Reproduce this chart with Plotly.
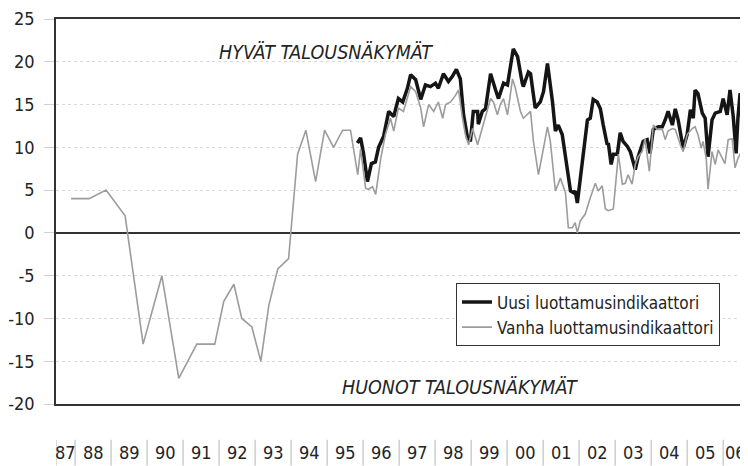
import plotly.graph_objects as go

# ---- data (decimal years, index values) ----
new_t = [1995.84, 1995.93, 1996.01, 1996.12, 1996.23, 1996.34, 1996.43, 1996.57, 1996.71, 1996.85,
         1996.98, 1997.10, 1997.23, 1997.32, 1997.46, 1997.60, 1997.73, 1997.87, 1998.01, 1998.09,
         1998.23, 1998.37, 1998.48, 1998.59, 1998.70, 1998.79, 1998.90, 1998.98, 1999.06, 1999.18,
         1999.20, 1999.31, 1999.40, 1999.54, 1999.68, 1999.76, 1999.90, 2000.01, 2000.17, 2000.29,
         2000.42, 2000.45, 2000.59, 2000.65, 2000.78, 2000.92, 2001.01, 2001.12, 2001.14, 2001.26,
         2001.34, 2001.42, 2001.53, 2001.64, 2001.76, 2001.84, 2001.89, 2001.95, 2002.09, 2002.23,
         2002.31, 2002.39, 2002.50, 2002.59, 2002.67, 2002.78, 2002.81, 2002.89, 2002.95, 2003.06,
         2003.14, 2003.22, 2003.34, 2003.42, 2003.56, 2003.64, 2003.78, 2003.89, 2003.97, 2004.06,
         2004.20, 2004.31, 2004.39, 2004.47, 2004.59, 2004.67, 2004.75, 2004.89, 2005.00, 2005.09,
         2005.17, 2005.22, 2005.30, 2005.42, 2005.50, 2005.58, 2005.69, 2005.78, 2005.92, 2006.00,
         2006.11, 2006.19, 2006.28, 2006.36, 2006.41, 2006.47, 2006.55, 2006.66]
new_v = [10.5, 11.1, 9.3, 6.0, 8.1, 8.3, 10.0, 11.3, 14.2, 13.6,
         15.7, 15.3, 16.9, 18.5, 17.9, 15.6, 17.3, 17.1, 17.5, 16.9,
         18.6, 17.7, 18.3, 19.1, 18.0, 13.8, 11.1, 10.7, 14.2, 14.2,
         12.7, 14.2, 14.5, 18.6, 16.7, 15.7, 17.5, 17.3, 21.5, 20.6,
         17.5, 17.1, 18.8, 18.6, 14.6, 15.3, 16.5, 19.8, 19.2, 15.3,
         11.9, 12.6, 11.5, 8.4, 4.9, 4.7, 4.9, 3.5, 8.7, 13.2,
         13.4, 15.6, 15.3, 14.5, 12.6, 10.3, 10.5, 8.0, 9.2, 9.2,
         11.7, 10.7, 10.1, 9.5, 7.4, 8.9, 10.7, 10.9, 9.3, 12.1,
         12.4, 12.4, 13.2, 14.2, 12.6, 14.5, 13.2, 9.9, 11.5, 14.4,
         13.4, 16.7, 16.3, 14.0, 13.4, 8.9, 13.2, 14.0, 14.2, 15.7,
         13.8, 16.7, 13.6, 9.3, 13.4, 16.3, 15.3, 14.4]

old_t = [1987.89, 1988.39, 1988.86, 1989.39, 1989.89, 1990.41, 1990.88, 1991.38, 1991.88, 1992.13,
         1992.41, 1992.63, 1992.91, 1993.16, 1993.38, 1993.63, 1993.93, 1994.18, 1994.41, 1994.68,
         1994.93, 1995.18, 1995.43, 1995.65, 1995.85, 1995.93, 1996.07, 1996.15, 1996.26, 1996.35,
         1996.49, 1996.62, 1996.76, 1996.85, 1996.98, 1997.12, 1997.32, 1997.46, 1997.60, 1997.68,
         1997.82, 1997.96, 1998.09, 1998.21, 1998.29, 1998.43, 1998.57, 1998.65, 1998.76, 1998.84,
         1998.93, 1999.04, 1999.18, 1999.26, 1999.40, 1999.54, 1999.62, 1999.73, 1999.81, 1999.90,
         2000.01, 2000.15, 2000.23, 2000.37, 2000.45, 2000.56, 2000.65, 2000.73, 2000.87, 2001.01,
         2001.12, 2001.20, 2001.34, 2001.48, 2001.62, 2001.70, 2001.81, 2001.89, 2001.95, 2002.03,
         2002.17, 2002.31, 2002.45, 2002.53, 2002.64, 2002.73, 2002.81, 2002.95, 2003.09, 2003.20,
         2003.28, 2003.36, 2003.47, 2003.56, 2003.64, 2003.75, 2003.83, 2003.95, 2004.06, 2004.17,
         2004.31, 2004.39, 2004.47, 2004.59, 2004.67, 2004.81, 2004.89, 2005.00, 2005.14, 2005.22,
         2005.30, 2005.39, 2005.44, 2005.53, 2005.58, 2005.69, 2005.78, 2005.86, 2005.97, 2006.05,
         2006.14, 2006.25, 2006.33, 2006.41, 2006.55, 2006.66]
old_v = [4, 4, 5, 2, -13, -5, -17, -13, -13, -8,
         -6, -10, -11, -15, -8.5, -4.2, -3, 9.2, 12, 6,
         12, 10, 12, 12, 6.8, 9.8, 5.2, 5.1, 5.4, 4.5,
         8.7, 11.5, 13.4, 11.9, 14.6, 14.2, 17.1, 16.5, 14.6, 12.4,
         15.0, 14.2, 15.3, 13.4, 15.0, 15.3, 16.1, 16.7, 13.4, 11.5,
         10.3, 12.2, 10.3, 11.5, 13.4, 15.7, 15.3, 13.8, 15.0, 15.7,
         13.8, 18.0, 16.9, 14.2, 13.4, 13.8, 14.2, 10.7, 6.8, 9.9,
         12.4, 10.7, 4.9, 6.4, 4.7, 0.6, 0.6, 1.2, 0.0, 1.4,
         2.2, 4.1, 5.8, 4.9, 5.5, 2.8, 2.6, 2.8, 9.2, 5.7,
         5.8, 6.8, 5.7, 8.0, 8.9, 9.5, 11.0, 7.2, 12.6, 12.1,
         12.1, 10.9, 11.9, 12.2, 12.1, 10.3, 9.5, 11.5, 12.2, 12.4,
         11.5, 9.9, 10.7, 8.7, 5.1, 9.5, 8.0, 9.7, 8.7, 8.1,
         10.9, 11.0, 7.6, 8.7, 9.9, 9.5]

year_starts = list(range(1987, 2007))
year_labels = ["87", "88", "89", "90", "91", "92", "93", "94", "95", "96",
               "97", "98", "99", "00", "01", "02", "03", "04", "05", "06"]
series_names = ["Uusi luottamusindikaattori", "Vanha luottamusindikaattori"]
top_text = "HYVÄT TALOUSNÄKYMÄT"
bottom_text = "HUONOT TALOUSNÄKYMÄT"

X_MIN, X_MAX = 1987.47, 2006.69
FONT = "Liberation Sans Narrow, DejaVu Sans Condensed, Roboto, sans-serif"
DARK = "#242424"

fig = go.Figure()
fig.add_trace(go.Scatter(x=new_t, y=new_v, mode="lines", name=series_names[0],
                         line=dict(color="#151515", width=3.5)))
fig.add_trace(go.Scatter(x=old_t, y=old_v, mode="lines", name=series_names[1],
                         line=dict(color="#9c9c9c", width=1.6)))

# year labels and separators below the plot
for ys, lab in zip(year_starts, year_labels):
    lo = max(ys, X_MIN)
    hi = min(ys + 1, X_MAX)
    fig.add_annotation(x=(lo + hi) / 2, y=-0.127, xref="x", yref="paper",
                       text=lab, showarrow=False, font=dict(size=18, color=DARK, family=FONT),
                       xanchor="center", yanchor="middle")
    fig.add_shape(type="line", xref="x", yref="paper", x0=lo, x1=lo, y0=-0.093, y1=-0.16,
                  line=dict(color="#b5b5b5", width=1))

fig.add_annotation(x=1994.96, y=21.1, xref="x", yref="y", text=top_text, showarrow=False,
                   font=dict(size=19.5, color=DARK, family=FONT, style="italic"),
                   xanchor="center", yanchor="middle")
fig.add_annotation(x=1998.70, y=-18.1, xref="x", yref="y", text=bottom_text, showarrow=False,
                   font=dict(size=19.5, color=DARK, family=FONT, style="italic"),
                   xanchor="center", yanchor="middle")

# page body has an 8px margin: figure is 740x458 placed at (8, 8)
fig.update_layout(
    width=740, height=458,
    margin=dict(l=47, r=0, t=9, b=62),
    paper_bgcolor="white", plot_bgcolor="white",
    font=dict(family=FONT, color=DARK),
    showlegend=True,
    legend=dict(x=0.578, y=0.313, xanchor="left", yanchor="top",
                bordercolor="#333", borderwidth=1, bgcolor="white",
                font=dict(size=17, family=FONT, color=DARK),
                itemwidth=30, tracegroupgap=0),
    xaxis=dict(range=[X_MIN, X_MAX], showticklabels=False, ticks="", showgrid=False,
               zeroline=False, showline=True, mirror=True, linecolor="#333", linewidth=1.5),
    yaxis=dict(range=[-20, 25], tickvals=[-20, -15, -10, -5, 0, 5, 10, 15, 20, 25],
               ticktext=["-20", "-15", "-10", "-5", "0", "5", "10", "15", "20", "25"],
               tickfont=dict(size=18, family=FONT, color=DARK),
               ticklabeloverflow="allow",
               ticks="outside", ticklen=10, tickcolor="#d0d0d0", ticklabelstandoff=6,
               showgrid=True, gridcolor="#dadada", griddash="dot", gridwidth=1,
               zeroline=True, zerolinecolor="#333", zerolinewidth=1.5,
               showline=True, linecolor="#333", linewidth=1.5),
)

fig.write_html("out.html")
